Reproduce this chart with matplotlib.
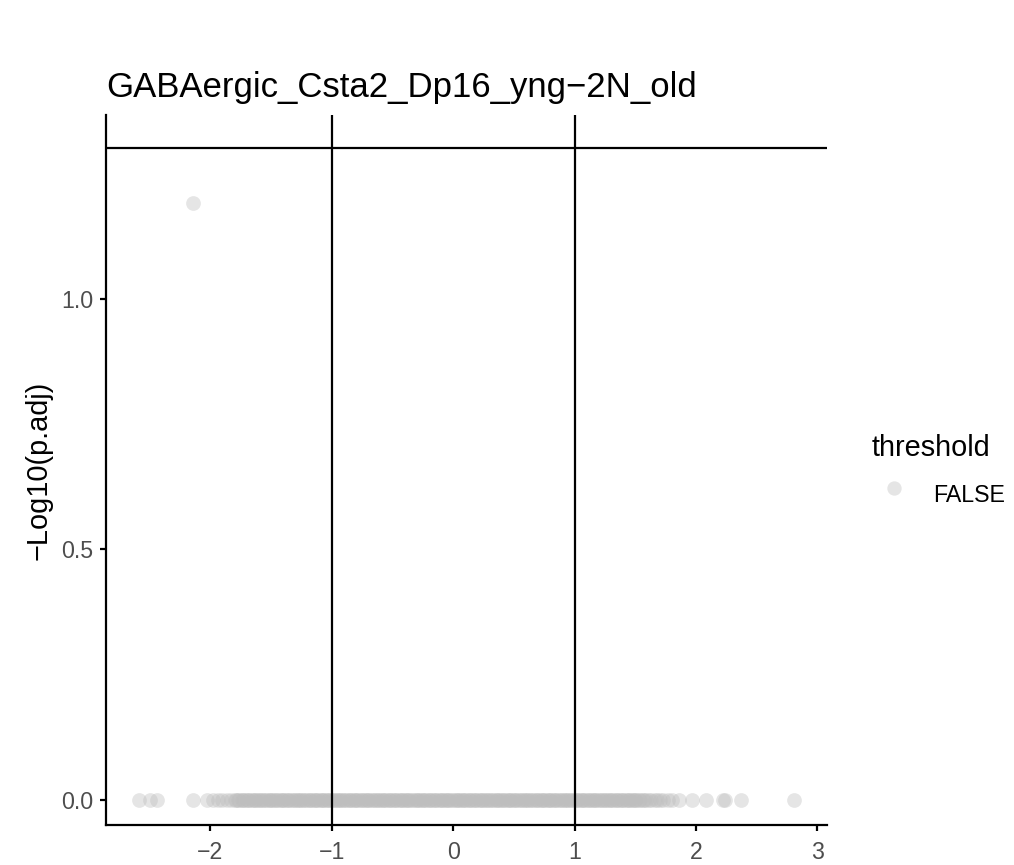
"""Volcano plot: GABAergic_Csta2_Dp16_yng-2N_old."""
import matplotlib
matplotlib.use("Agg")
import matplotlib.pyplot as plt
from matplotlib.lines import Line2D

plt.rcParams['font.family'] = ['Liberation Sans', 'DejaVu Sans']

# log2 fold change of the genes with -log10(p.adj) == 0
logfc_zero = [
    -2.59, -2.50, -2.44, -2.14, -2.03, -1.98, -1.94, -1.90, -1.86, -1.83,
    -1.80, -1.77, -1.74, -1.72, -1.69, -1.66, -1.63, -1.61, -1.58, -1.55,
    -1.52, -1.50, -1.47, -1.44, -1.41, -1.39, -1.36, -1.33, -1.30, -1.28,
    -1.25, -1.22, -1.19, -1.17, -1.14, -1.11, -1.08, -1.06, -1.03, -1.00,
    -0.97, -0.95, -0.92, -0.89, -0.86, -0.84, -0.81, -0.78, -0.75, -0.73,
    -0.70, -0.67, -0.64, -0.62, -0.59, -0.56, -0.53, -0.51, -0.48, -0.45,
    -0.42, -0.40, -0.37, -0.34, -0.31, -0.29, -0.26, -0.23, -0.20, -0.18,
    -0.15, -0.12, -0.09, -0.07, -0.04, -0.01, 0.02, 0.04, 0.07, 0.10,
    0.13, 0.15, 0.18, 0.21, 0.24, 0.26, 0.29, 0.32, 0.35, 0.37,
    0.40, 0.43, 0.46, 0.48, 0.51, 0.54, 0.57, 0.59, 0.62, 0.65,
    0.68, 0.70, 0.73, 0.76, 0.79, 0.81, 0.84, 0.87, 0.90, 0.92,
    0.95, 0.98, 1.01, 1.03, 1.06, 1.09, 1.12, 1.14, 1.17, 1.20,
    1.23, 1.25, 1.28, 1.31, 1.34, 1.36, 1.39, 1.42, 1.45, 1.47,
    1.50, 1.53, 1.56, 1.59, 1.63, 1.66, 1.70, 1.73, 1.77, 1.80,
    1.86, 1.97, 2.08, 2.22, 2.24, 2.37, 2.81,
]
# more genes in the crowded middle, also at -log10(p.adj) == 0
logfc_core = [
    -1.79, -1.76, -1.73, -1.70, -1.68, -1.65, -1.62, -1.59, -1.57, -1.54,
    -1.51, -1.48, -1.46, -1.43, -1.40, -1.37, -1.35, -1.32, -1.29, -1.26,
    -1.24, -1.21, -1.18, -1.15, -1.13, -1.10, -1.07, -1.04, -1.02, -0.99,
    -0.96, -0.93, -0.91, -0.88, -0.85, -0.82, -0.80, -0.77, -0.74, -0.71,
    -0.69, -0.66, -0.63, -0.60, -0.58, -0.55, -0.52, -0.49, -0.47, -0.44,
    -0.41, -0.38, -0.36, -0.33, -0.30, -0.27, -0.25, -0.22, -0.19, -0.16,
    -0.14, -0.11, -0.08, -0.05, -0.03, 0.00, 0.03, 0.06, 0.08, 0.11,
    0.14, 0.17, 0.19, 0.22, 0.25, 0.28, 0.30, 0.33, 0.36, 0.39,
    0.41, 0.44, 0.47, 0.50, 0.52, 0.55, 0.58, 0.61, 0.63, 0.66,
    0.69, 0.72, 0.74, 0.77, 0.80, 0.83, 0.85, 0.88, 0.91, 0.94,
    0.96, 0.99, 1.02, 1.05, 1.07, 1.10, 1.13, 1.16, 1.18, 1.21,
    1.24, 1.27, 1.29, 1.32, 1.35, 1.38, 1.40, 1.43, 1.46, 1.49,
    1.51, 1.54, 1.57, 1.61, 1.68,
]
# the one gene that rises above zero
logfc_sig = [-2.14]
padj_sig = [1.19]

p_cut = 1.301          # -log10(0.05)
fc_cuts = [-1, 1]
x_ticks = [-2, -1, 0, 1, 2, 3]
y_ticks = [0.0, 0.5, 1.0]

title = "GABAergic_Csta2_Dp16_yng\u22122N_old"

pt_color = '#BEBEBE'
pt_alpha = 0.4

fig = plt.figure(figsize=(10.14, 8.65), dpi=100)
ax = fig.add_axes([0.1045, 0.0462, 0.7111, 0.8208])

xs = logfc_zero + logfc_core + logfc_sig
ys = [0.0] * (len(logfc_zero) + len(logfc_core)) + padj_sig
ax.scatter(xs, ys, s=112, c=pt_color, alpha=pt_alpha, linewidths=0, zorder=2)

ax.axhline(p_cut, color='black', lw=1.6, zorder=3)
for v in fc_cuts:
    ax.axvline(v, color='black', lw=1.6, zorder=3)

ax.set_xlim(-2.86, 3.08)
ax.set_ylim(-0.05, 1.366)
ax.set_xticks(x_ticks)
ax.set_xticklabels([str(t).replace('-', '\u2212') for t in x_ticks])
ax.set_yticks(y_ticks)
ax.set_yticklabels(['%.1f' % t for t in y_ticks])

for side in ['top', 'right']:
    ax.spines[side].set_visible(False)
for side in ['left', 'bottom']:
    ax.spines[side].set_linewidth(1.6)
ax.tick_params(axis='both', length=4.3, width=1.6, labelsize=16.7,
               labelcolor='#4D4D4D')
ax.tick_params(axis='x', pad=7.5)
ax.tick_params(axis='y', pad=5)
ax.set_ylabel('\u2212Log10(p.adj)', fontsize=20.8, labelpad=6)

fig.text(0.1045, 0.888, title, fontsize=25, ha='left', va='baseline')

# legend
handle = Line2D([], [], ls='', marker='o', ms=10.3, mfc=pt_color, mec='none',
                alpha=pt_alpha)
leg = fig.legend([handle], ['FALSE'], title='threshold', frameon=False,
                 loc='upper left', bbox_to_anchor=(0.860, 0.498),
                 fontsize=16.7, title_fontsize=20.8, handlelength=1.9,
                 handleheight=2.4, handletextpad=0.75, borderpad=0,
                 borderaxespad=0)
leg._legend_box.align = 'left'

fig.savefig('out.png', dpi=100)
